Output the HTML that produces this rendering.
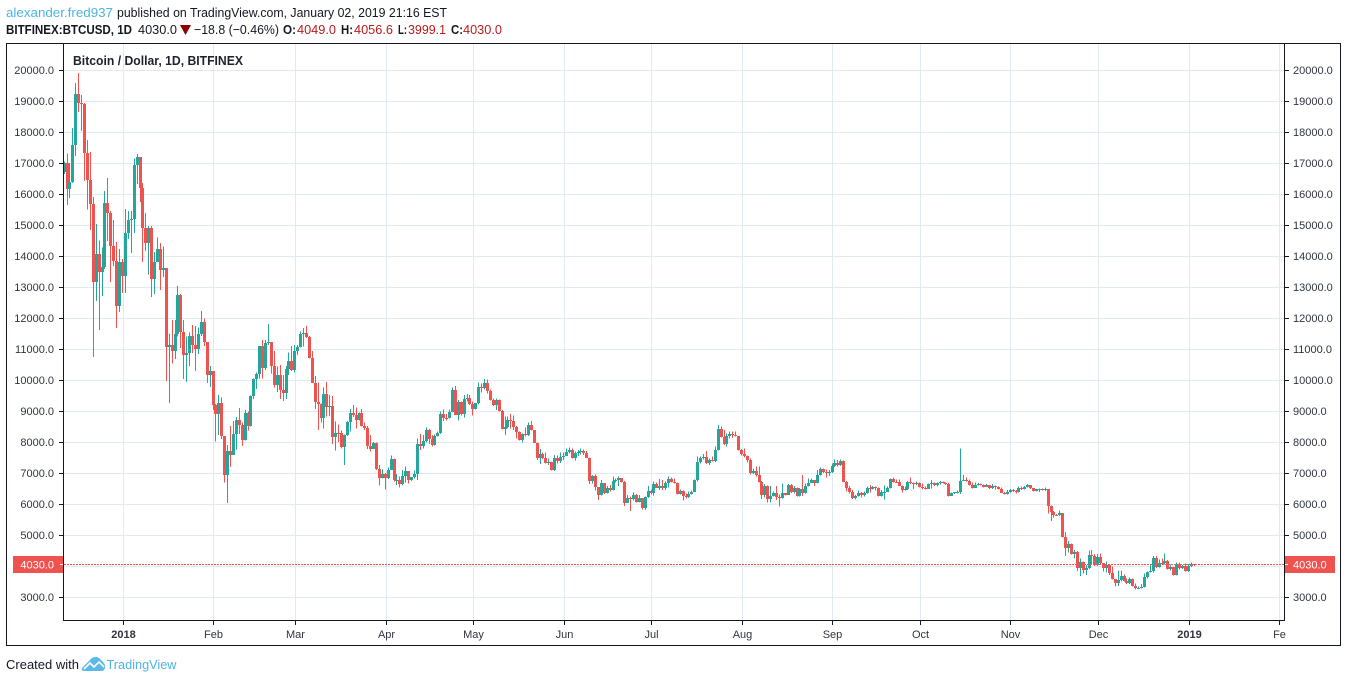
<!DOCTYPE html>
<html lang="en">
<head>
<meta charset="utf-8">
<title>BTCUSD chart</title>
<style>
html,body{margin:0;padding:0;background:#fff;width:1348px;height:682px;overflow:hidden}
svg{display:block}
text{font-family:"Liberation Sans",Arial,sans-serif}
</style>
</head>
<body>
<svg id="chart" width="1348" height="682" viewBox="0 0 1348 682" xmlns="http://www.w3.org/2000/svg">
  <defs><clipPath id="plot-clip"><rect x="64" y="44" width="1220" height="576"/></clipPath></defs>
  <rect x="0" y="0" width="1348" height="682" fill="#ffffff"/>

  <text x="6" y="17" font-size="13" fill="#4db4e6" textLength="107" lengthAdjust="spacingAndGlyphs">alexander.fred937</text>
  <text x="117" y="17" font-size="13" fill="#131722" textLength="330" lengthAdjust="spacingAndGlyphs">published on TradingView.com, January 02, 2019 21:16 EST</text>

  <text x="6" y="34" font-size="13" font-weight="bold" fill="#131722" textLength="126" lengthAdjust="spacingAndGlyphs">BITFINEX:BTCUSD, 1D</text>
  <text x="138" y="34" font-size="13" fill="#131722" textLength="39" lengthAdjust="spacingAndGlyphs">4030.0</text>
  <polygon points="180,25 191,25 185.5,35" fill="#8b0000"/>
  <text x="194" y="34" font-size="13" fill="#131722" textLength="85" lengthAdjust="spacingAndGlyphs">−18.8 (−0.46%)</text>
  <text x="283" y="34" font-size="13" font-weight="bold" fill="#131722" textLength="13" lengthAdjust="spacingAndGlyphs">O:</text>
  <text x="297" y="34" font-size="13" fill="#b71c1c" textLength="39" lengthAdjust="spacingAndGlyphs">4049.0</text>
  <text x="341" y="34" font-size="13" font-weight="bold" fill="#131722" textLength="12" lengthAdjust="spacingAndGlyphs">H:</text>
  <text x="354" y="34" font-size="13" fill="#b71c1c" textLength="39" lengthAdjust="spacingAndGlyphs">4056.6</text>
  <text x="398" y="34" font-size="13" font-weight="bold" fill="#131722" textLength="9" lengthAdjust="spacingAndGlyphs">L:</text>
  <text x="408" y="34" font-size="13" fill="#b71c1c" textLength="38" lengthAdjust="spacingAndGlyphs">3999.1</text>
  <text x="451" y="34" font-size="13" font-weight="bold" fill="#131722" textLength="12" lengthAdjust="spacingAndGlyphs">C:</text>
  <text x="463" y="34" font-size="13" fill="#b71c1c" textLength="39" lengthAdjust="spacingAndGlyphs">4030.0</text>

  <g id="grid"></g>
  <g id="candles" clip-path="url(#plot-clip)"></g>

  <line x1="64" y1="564.5" x2="1284" y2="564.5" stroke="#ef5350" stroke-width="1" stroke-dasharray="2 1" shape-rendering="crispEdges"/>

  <text x="73" y="65" font-size="13" font-weight="bold" fill="#1e222d" textLength="170" lengthAdjust="spacingAndGlyphs">Bitcoin / Dollar, 1D, BITFINEX</text>

  <rect x="6.5" y="43.5" width="1334" height="602" fill="none" stroke="#131722" stroke-width="1"/>
  <line x1="63.5" y1="43" x2="63.5" y2="621" stroke="#131722" stroke-width="1"/>
  <line x1="1284.5" y1="43" x2="1284.5" y2="621" stroke="#131722" stroke-width="1"/>
  <line x1="63" y1="620.5" x2="1285" y2="620.5" stroke="#131722" stroke-width="1"/>

  <g id="axes"></g>

  <rect x="13" y="556" width="50" height="17" fill="#ef5350"/>
  <line x1="60" y1="564.5" x2="63" y2="564.5" stroke="#ffffff"/>
  <text x="54" y="568.5" font-size="11" text-anchor="end" fill="#ffffff">4030.0</text>
  <rect x="1285" y="556" width="50" height="17" fill="#ef5350"/>
  <line x1="1285" y1="564.5" x2="1288" y2="564.5" stroke="#ffffff"/>
  <text x="1293" y="568.5" font-size="11" fill="#ffffff">4030.0</text>

  <text x="6" y="669" font-size="13" fill="#131722" textLength="73" lengthAdjust="spacingAndGlyphs">Created with</text>
  <g>
    <path d="M82 668 L90 660 Q94 655 99 658 L103 662 Q107 666 104 670 Q103 671 100 671 L85 671 Q81 671 82 668 Z" fill="#5bb8e8"/>
    <path d="M84 669 L90 663 L94 667 L99 662 L104 667" fill="none" stroke="#ffffff" stroke-width="1.6"/>
  </g>
  <text x="106.5" y="669" font-size="13" fill="#4db4e6" textLength="70" lengthAdjust="spacingAndGlyphs">TradingView</text>
</svg>

<script>
// First candle's date and open; each later open is the prior session's close.
const firstDate = "2017-12-12";
const firstOpen = 16700;

// Closes, one line per month (Dec 2017 ... Jan 2019)
const closes = [
17000,16150,16400,17580,19230,18940,18900,17320,16450,15680,13160,14060,13480,13640,15710,15390,14320,13840,12390,13800,
13350,14740,15160,15200,16930,17200,16200,14900,14420,14900,13260,13800,14230,13550,13620,11060,11130,10950,11500,12740,11550,10800,10870,11420,11130,11010,11480,11870,11230,10160,10290,
9190,8900,9250,8190,6940,7710,7580,8260,8710,8550,8065,8950,8520,9485,10030,10180,11100,10400,11180,11215,10460,9840,10160,9680,9590,10345,10610,10320,
10935,11055,11485,11525,11400,10720,9915,9300,9240,8785,9550,9130,9160,8175,8300,8280,7840,8225,8645,8945,8860,8710,8945,8530,8465,7880,7775,7980,7120,6850,6970,
6830,7095,7450,6775,6790,6635,6915,7055,6775,6860,6970,7935,7870,8030,8385,8095,7905,8195,8280,8905,8790,8780,8980,9675,8870,9280,8905,9385,9420,9225,
9065,9245,9765,9730,9890,9655,9355,9195,9355,9010,8420,8495,8710,8690,8475,8335,8065,8260,8235,8550,8385,7980,7495,7615,7480,7335,7365,7095,7495,7385,7525,
7560,7690,7740,7495,7635,7665,7700,7635,7495,6740,6905,6540,6290,6665,6345,6505,6450,6755,6775,6830,6720,6045,6185,6160,6290,6075,6185,5860,6215,6420,
6345,6645,6525,6570,6505,6665,6805,6720,6690,6310,6420,6270,6235,6310,6400,6775,7365,7475,7525,7310,7420,7385,7740,8420,8150,7925,8195,8260,8225,8195,7740,
7610,7550,7420,6990,7075,6935,6720,6290,6580,6160,6255,6345,6215,6205,6345,6290,6615,6375,6525,6260,6490,6365,6580,6690,6775,6690,6935,7120,7020,6990,7020,
7225,7310,7260,7395,6720,6525,6400,6185,6260,6365,6290,6365,6525,6485,6550,6505,6260,6400,6400,6505,6795,6720,6710,6590,6450,6475,6720,6665,6635,6665,
6560,6505,6490,6635,6690,6615,6670,6720,6680,6660,6270,6340,6375,6390,6750,6775,6750,6610,6530,6615,6630,6610,6560,6600,6505,6580,6535,6490,6365,6325,6395,
6450,6420,6375,6525,6470,6560,6610,6505,6420,6470,6485,6450,6480,5935,5750,5645,5635,5700,4945,4570,4710,4385,4460,3925,4130,3870,3925,4355,4330,4030,
4290,4085,3925,4030,3785,3570,3460,3550,3675,3515,3440,3580,3355,3280,3300,3330,3635,3795,3850,4270,3955,4110,4085,4170,3890,3955,3710,4065,3925,3995,3840,
4000,4049,4030
];

const highs = [
17050,17300,17000,18130,19580,19900,19190,18940,17740,17350,15900,15030,14500,14280,16100,16520,15450,15160,14450,14230,
13900,15520,15450,15450,17150,17290,17200,16350,15390,14970,14970,14130,14600,14420,14300,13620,11500,11930,11930,13030,12780,11930,11400,11530,11770,11740,11700,12220,11990,11230,10450,
10290,9230,9520,9440,8200,7900,8520,8680,8800,9100,8625,9030,8980,9500,10050,10250,11100,11290,11290,11800,11220,10940,10430,10480,10160,10450,10890,11100,
11130,11130,11560,11670,11740,11420,10940,10130,9915,9240,9765,9935,9520,9485,8655,8560,8365,8250,8680,9065,9195,9110,8950,9065,8635,8515,8230,8000,7990,7260,7120,
7000,7170,7560,7460,6970,6880,7100,7205,7065,6870,7075,8120,8260,8225,8475,8420,8225,8240,8335,8980,9050,8900,9055,9765,9805,9355,9300,9515,9550,9515,
9300,9260,9915,9890,10030,10020,9700,9400,9410,9370,9030,8815,8815,8905,8850,8515,8340,8270,8470,8625,8675,8390,7990,7775,7655,7655,7475,7370,7580,7560,7655,
7655,7795,7830,7795,7690,7740,7795,7765,7710,7500,6935,6950,6540,6775,6680,6580,6615,6880,6830,6880,6790,6740,6290,6250,6375,6320,6290,6190,6240,6580,
6470,6720,6690,6805,6775,6720,6880,6850,6830,6700,6475,6430,6345,6400,6430,6790,7525,7530,7610,7710,7475,7525,7850,8550,8495,8385,8280,8335,8335,8335,8200,
7770,7795,7560,7475,7150,7205,7205,6740,6645,6590,6580,6400,6580,6300,6665,6350,6645,6645,6580,6540,6510,6935,6665,6825,6825,6780,7100,7185,7150,7120,7100,
7310,7440,7420,7440,7400,6740,6580,6450,6290,6430,6390,6400,6560,6615,6580,6560,6530,6450,6590,6560,6830,6860,6790,6795,6600,6560,6740,6860,6690,6720,
6700,6665,6560,6665,6775,6700,6690,6750,6730,6700,6670,6375,6390,6430,7795,6935,6850,6795,6690,6690,6680,6660,6630,6640,6610,6645,6600,6560,6535,6380,6450,
6485,6490,6450,6560,6560,6575,6645,6620,6510,6490,6500,6505,6535,6490,5950,5780,5670,5785,5710,5100,4805,4720,4515,4480,4245,4140,4030,4495,4515,4385,
4385,4410,4100,4140,4070,3980,3580,3850,3850,3730,3590,3635,3600,3440,3340,3420,3765,3830,4065,4320,4320,4215,4245,4410,4195,4055,3950,4105,4105,4040,4085,
4065,4120,4056.6
];

const lows = [
16650,15650,15870,16350,17230,18650,18030,16420,15500,14840,10740,12550,11610,12710,13580,14480,13160,13680,11680,12200,
12800,12800,14550,14100,14740,16320,15740,13800,14160,13400,12680,12770,13800,12900,13320,9970,9260,10540,10670,11400,11030,10030,9930,10450,10870,10290,10840,11420,11100,9910,9780,
9030,8010,8230,8100,6690,6040,7200,7580,7765,8260,7870,8050,8370,8500,9380,9710,10050,10050,10320,11130,10215,9760,9620,9390,9330,9390,10160,10290,
10240,10800,11050,11075,11350,10700,9900,9065,8390,8625,8440,8820,8840,7935,7720,8000,7785,7260,8195,8335,8800,8440,8700,8495,8390,7775,7700,7770,7100,6590,6830,
6475,6800,7090,6720,6615,6540,6615,6700,6665,6740,6830,6775,7740,7795,7990,7935,7850,7890,8170,8260,8680,8700,8760,8970,8870,8690,8850,8785,9300,9190,
8850,9050,9210,9590,9700,9570,9335,9160,9030,8980,8410,8225,8440,8440,8385,8120,8045,7980,8170,8195,8365,7970,7420,7290,7450,7310,7260,7080,7065,7310,7330,
7420,7550,7630,7460,7400,7550,7600,7580,7490,6645,6665,6440,6130,6270,6320,6360,6400,6430,6690,6580,6700,5935,6045,5775,6110,6055,6050,5830,5805,6200,
6310,6280,6510,6450,6450,6450,6540,6700,6660,6300,6300,6110,6185,6200,6300,6390,6720,7300,7430,7290,7260,7365,7360,7720,8140,7900,7850,8110,8130,8170,7730,
7570,7495,7335,6955,6960,6880,6700,6160,6215,6045,6045,6250,6130,5915,6185,6280,6290,6350,6340,6250,6250,6260,6340,6570,6680,6580,6660,6920,7000,6850,6900,
7000,7190,7205,7230,6720,6400,6345,6160,6150,6240,6205,6240,6340,6375,6470,6430,6235,6240,6150,6380,6500,6700,6690,6580,6365,6440,6450,6640,6485,6620,
6540,6475,6470,6490,6500,6580,6560,6630,6660,6610,6250,6270,6330,6340,6330,6740,6720,6590,6500,6510,6590,6590,6540,6550,6490,6480,6470,6470,6350,6310,6310,
6370,6380,6345,6365,6450,6465,6540,6490,6400,6400,6385,6430,6420,5700,5450,5560,5610,5620,4925,4320,4430,4370,4245,3840,3675,3765,3710,3900,4030,4000,
4000,4030,3815,3795,3710,3560,3335,3355,3500,3500,3420,3420,3340,3245,3260,3270,3300,3590,3785,3790,3940,3955,4030,4050,3880,3850,3700,3700,3890,3900,3815,
3810,3960,3999.1
];

const priceTicks = [3000,4000,5000,6000,7000,8000,9000,10000,11000,12000,13000,14000,15000,16000,17000,18000,19000,20000];
const priceLabelSkip = [4000];
const timeTickDates = ["2018-01-01","2018-02-01","2018-03-01","2018-04-01","2018-05-01","2018-06-01","2018-07-01","2018-08-01","2018-09-01","2018-10-01","2018-11-01","2018-12-01","2019-01-01","2019-02-01"];
const timeTickLabels = ["2018","Feb","Mar","Apr","May","Jun","Jul","Aug","Sep","Oct","Nov","Dec","2019","Fe"];
const boldTimeLabels = ["2018","2019"];

const NS = "http://www.w3.org/2000/svg";
const UP = "#26a69a", DOWN = "#ef5350";
const DAY_MS = 86400000;
const EPOCH = Date.UTC(2018, 0, 1);

function dayOf(iso) { return (Date.parse(iso + "T00:00:00Z") - EPOCH) / DAY_MS; }
function xScale(day) { return 123.3 + 2.92 * day; }
function yScale(price) { return 70 + (20000 - price) * 0.031; }

function mk(tag, attrs, parent, txt) {
  const el = document.createElementNS(NS, tag);
  for (const k in attrs) el.setAttribute(k, attrs[k]);
  if (txt !== undefined) el.textContent = txt;
  parent.appendChild(el);
  return el;
}

const gridG = document.getElementById("grid");
const axesG = document.getElementById("axes");
const candlesG = document.getElementById("candles");
const GRID = "#e0eaf1", AXIS_TXT = "#2f3440", AXIS = "#131722";

priceTicks.forEach(function (p) {
  const y = Math.round(yScale(p)) + 0.5;
  const gl = mk("line", { x1: 64, x2: 1284, y1: y, y2: y, stroke: GRID, "stroke-width": 1 }, gridG);
  
  
  const lt = mk("line", { x1: 59, x2: 63, y1: y, y2: y, stroke: AXIS }, axesG);
  
  
  const rt = mk("line", { x1: 1285, x2: 1289, y1: y, y2: y, stroke: AXIS }, axesG);
  
  
  if (priceLabelSkip.indexOf(p) < 0) {
    const label = p.toFixed(1);
    const ll = mk("text", { x: 54, y: y + 3.5, "font-size": 11, "text-anchor": "end", fill: AXIS_TXT }, axesG, label);
    
    
    const rl = mk("text", { x: 1293, y: y + 3.5, "font-size": 11, fill: AXIS_TXT }, axesG, label);
    
    
  }
});

timeTickDates.forEach(function (d, i) {
  const x = Math.floor(xScale(dayOf(d))) + 0.5;
  const gl = mk("line", { x1: x, x2: x, y1: 44, y2: 620, stroke: GRID, "stroke-width": 1 }, gridG);
  
  
  const t = mk("line", { x1: x, x2: x, y1: 620, y2: 625, stroke: AXIS }, axesG);
  
  
  const name = timeTickLabels[i];
  const isBold = boldTimeLabels.indexOf(name) >= 0;
  const lab = mk("text", { x: x, y: 638, "font-size": 11, "text-anchor": "middle", "font-weight": isBold ? "bold" : "normal", fill: AXIS_TXT }, axesG, name);
  
  
});

const startDay = dayOf(firstDate);
closes.forEach(function (c, i) {
  const o = i === 0 ? firstOpen : closes[i - 1];
  const h = Math.max(highs[i], o, c);
  const l = Math.min(lows[i], o, c);
  const col = c >= o ? UP : DOWN;
  const cx = Math.floor(xScale(startDay + i) - 0.8);
  const yTop = Math.round(yScale(Math.max(o, c)));
  const yBot = Math.round(yScale(Math.min(o, c)));
  const g = mk("g", {}, candlesG);
  
  
  const wick = mk("rect", { x: cx, y: yScale(h), width: 1, height: Math.max(1, yScale(l) - yScale(h)), fill: col, "shape-rendering": "crispEdges" }, g);
  
  
  const body = mk("rect", { x: cx - 1, y: yTop, width: 3, height: Math.max(1, yBot - yTop), fill: col, "shape-rendering": "crispEdges" }, g);
  
  
});
</script>
</body>
</html>
